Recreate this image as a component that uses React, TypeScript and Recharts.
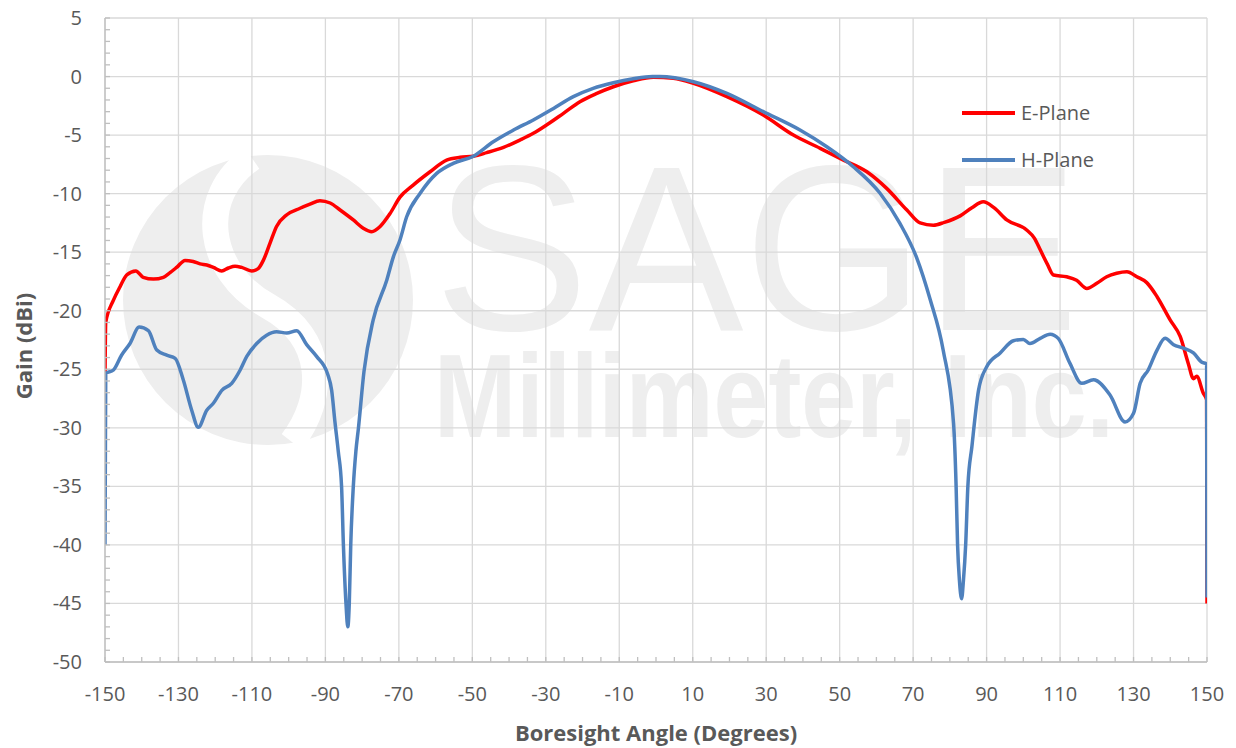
import React from 'react'
import { CartesianGrid, Label, Legend, Line, LineChart, XAxis, YAxis } from 'recharts'

const ePlaneAngle = [
  -150, -149.8, -147.7, -145.9, -144.1, -141.6, -139.6, -136.8, -134.1, -132.3, -130.5, -128.2, -126, -124.1,
  -122.3, -120.5, -118.2, -116.4, -114.6, -112.8, -110.1, -108.3, -106.9, -105.1, -103.3, -100.5, -96.9, -94.2,
  -91.5, -88.7, -86, -82.4, -79.7, -77.4, -75.1, -72.4, -69.7, -66.1, -61.5, -57, -53.3, -49.7, -46.1, -41.5, -37,
  -33.4, -29.8, -25.2, -20.7, -16.1, -11.6, -6.2, -0.7, 4.7, 10.2, 19.3, 29.2, 37.4, 44.7, 50.1, 57.4, 62.8, 68.3,
  71.9, 75.5, 78.5, 82.8, 86, 89.1, 92, 95.5, 100.9, 103, 104.6, 106.5, 108.2, 111.8, 114.5, 117.3, 120, 122.7,
  125.4, 128.2, 130.9, 133.6, 136.4, 140, 142.7, 144.9, 146.3, 147.2, 149, 149.9, 150,
]
const ePlaneGain = [
  -25.5, -21, -19.1, -17.95, -16.95, -16.6, -17.15, -17.3, -17.15, -16.75, -16.3, -15.7, -15.8, -16, -16.1, -16.3,
  -16.6, -16.35, -16.2, -16.3, -16.6, -16.4, -15.7, -14.25, -12.8, -11.8, -11.25, -10.9, -10.6, -10.8, -11.4,
  -12.25, -12.95, -13.25, -12.8, -11.7, -10.3, -9.27, -8.13, -7.13, -6.9, -6.8, -6.5, -6.05, -5.42, -4.85, -4.14,
  -3.14, -2.15, -1.44, -0.87, -0.36, -0.05, -0.15, -0.58, -1.72, -3.29, -5, -6.13, -7, -8.13, -9.55, -11.4, -12.5,
  -12.7, -12.45, -11.9, -11.2, -10.7, -11.2, -12.25, -13.1, -13.8, -14.8, -16, -16.95, -17.1, -17.4, -18.1, -17.66,
  -17.1, -16.8, -16.67, -17.1, -17.6, -18.8, -20.8, -22.2, -24.5, -25.8, -25.6, -27.05, -27.6, -45,
]
const hPlaneAngle = [
  -150, -149.8, -147.7, -145.5, -143.2, -140.7, -138.2, -135.9, -133.2, -130.9, -128.7, -126.4, -124.6, -122.3,
  -120.5, -118.2, -115.5, -113.2, -111.4, -108.7, -106, -103.3, -100.5, -97.8, -95.1, -92.4, -89.4, -88.3, -87.4,
  -86.5, -85.6, -85.1, -84.4, -83.9, -83.5, -83.1, -82.4, -81.7, -81, -79.5, -77, -73.3, -71.5, -69.7, -67.9,
  -64.2, -59.7, -55.2, -49.7, -44.3, -38.8, -33.4, -27.9, -22.5, -17.1, -11.6, -6.2, -1, 1, 10.2, 19.3, 29.2, 39.2,
  46.5, 53.7, 61, 66.4, 71, 74.6, 78.2, 81, 81.7, 82.1, 82.6, 83.2, 83.7, 84.3, 84.9, 86, 87.8, 90, 93.7, 97.3,
  100, 101.8, 104.6, 107.3, 109.5, 112.7, 115.9, 119.1, 123.6, 127.7, 130, 131.8, 134, 136.4, 138.6, 140.9, 143.6,
  146.3, 148.6, 149.9, 150,
]
const hPlaneGain = [
  -40, -25.35, -25.06, -23.8, -22.8, -21.4, -21.7, -23.36, -23.8, -24.07, -25.9, -28.5, -29.96, -28.5, -27.9,
  -26.8, -26.2, -25.06, -23.9, -22.8, -22.1, -21.8, -21.9, -21.7, -22.9, -23.9, -25.4, -26.8, -29.5, -32, -35, -40,
  -45, -47, -45, -40, -35, -32, -30, -25.2, -20.8, -17.4, -15.4, -13.96, -12, -9.97, -8.27, -7.41, -6.8, -5.57,
  -4.57, -3.71, -2.72, -1.72, -1.01, -0.53, -0.19, 0, 0, -0.44, -1.44, -3, -4.57, -6, -7.7, -9.97, -12.54, -15.5,
  -19, -23.4, -29.6, -35, -40, -43, -44.6, -43, -40, -35, -31.6, -26.8, -24.8, -23.6, -22.56, -22.45, -22.8,
  -22.36, -22, -22.36, -24.5, -26.2, -25.9, -27.2, -29.5, -28.76, -26.2, -25.06, -23.36, -22.36, -22.9, -23.2,
  -23.6, -24.4, -24.55, -44.5,
]

const xTickLabels = [-150, -130, -110, -90, -70, -50, -30, -10, 10, 30, 50, 70, 90, 110, 130, 150]
const yTickLabels = [5, 0, -5, -10, -15, -20, -25, -30, -35, -40, -45, -50]

const ePlane = ePlaneAngle.map((angle, i) => ({ angle, gain: ePlaneGain[i] }))
const hPlane = hPlaneAngle.map((angle, i) => ({ angle, gain: hPlaneGain[i] }))

// minor tick marks: every 5 degrees, every 1 dB
const xMinorTicks = Array.from({ length: 61 }, (_, i) => -150 + i * 5)
const yMinorTicks = Array.from({ length: 56 }, (_, i) => -50 + i)

const FONT = "'Open Sans', 'Noto Sans', sans-serif"
const TEXT = '#595959'
const AXIS = '#bfbfbf'
const GRID = '#d9d9d9'
const WATERMARK = '#eeeeee'

const XTick = ({ x, y, payload }: any) => (
  <g>
    <line x1={x} y1={y} x2={x} y2={y - 5} stroke={AXIS} strokeWidth={1.3} />
    {xTickLabels.includes(payload.value) && (
      <text x={x} y={y + 32} dy="0.35em" textAnchor="middle" fill={TEXT} fontSize={20} fontFamily={FONT}>
        {payload.value}
      </text>
    )}
  </g>
)

const YTick = ({ x, y, payload }: any) => (
  <g>
    <line x1={x} y1={y} x2={x + 5} y2={y} stroke={AXIS} strokeWidth={1.3} />
    {yTickLabels.includes(payload.value) && (
      <text x={x - 23} y={y} dy="0.35em" textAnchor="end" fill={TEXT} fontSize={20} fontFamily={FONT}>
        {payload.value}
      </text>
    )}
  </g>
)

const LegendContent = ({ payload }: any) => (
  <div style={{ fontFamily: FONT, fontSize: 20, color: TEXT }}>
    {(payload || []).map((item: any) => (
      <div key={item.value} style={{ display: 'flex', alignItems: 'center', height: 47 }}>
        <span style={{ display: 'inline-block', width: 53, height: 4, background: item.color, marginRight: 6 }} />
        {item.value}
      </div>
    ))}
  </div>
)

const Watermark = () => (
  <svg width={1236} height={748} style={{ position: 'absolute', left: 0, top: 0 }}>
    <circle cx={268} cy={300} r={145} fill={WATERMARK} />
    <path
      d="M 252 158 C 196 196, 206 272, 268 306 C 326 338, 326 398, 292 442"
      fill="none"
      stroke="#ffffff"
      strokeWidth={26}
    />
    <text
      x={434}
      y={330}
      fontFamily="'Liberation Sans', sans-serif"
      fontSize={236}
      textLength={645}
      lengthAdjust="spacingAndGlyphs"
      fill={WATERMARK}
    >
      SAGE
    </text>
    <text
      x={434}
      y={437}
      fontFamily="'Liberation Sans', sans-serif"
      fontWeight="bold"
      fontSize={119}
      textLength={680}
      lengthAdjust="spacingAndGlyphs"
      fill={WATERMARK}
    >
      Millimeter, Inc.
    </text>
  </svg>
)

export default function App() {
  return (
    <div style={{ position: 'absolute', left: 0, top: 0, width: 1236, height: 748, background: '#fff' }}>
      <Watermark />
      <div style={{ position: 'absolute', left: 0, top: 0 }}>
        <LineChart width={1236} height={748} margin={{ top: 18, right: 29, bottom: 26, left: 45 }}>
          <CartesianGrid
            stroke={GRID}
            strokeWidth={1.3}
            verticalValues={xTickLabels}
            horizontalValues={yTickLabels}
          />
          <XAxis
            type="number"
            dataKey="angle"
            domain={[-150, 150]}
            ticks={xMinorTicks}
            interval={0}
            allowDataOverflow
            height={60}
            tickSize={0}
            tickMargin={0}
            tickLine={false}
            tick={<XTick />}
            axisLine={{ stroke: AXIS, strokeWidth: 1.3 }}
            label={
              <Label
                content={() => (
                  <text x={656} y={733} dy="0.35em" textAnchor="middle" fill={TEXT} fontSize={22} fontWeight="bold" fontFamily={FONT}>
                    Boresight Angle (Degrees)
                  </text>
                )}
              />
            }
          />
          <YAxis
            type="number"
            domain={[-50, 5]}
            ticks={yMinorTicks}
            interval={0}
            allowDataOverflow
            width={60}
            tickSize={0}
            tickMargin={0}
            tickLine={false}
            tick={<YTick />}
            axisLine={{ stroke: AXIS, strokeWidth: 1.3 }}
            label={
              <Label
                content={() => (
                  <text
                    x={24}
                    y={346}
                    dy="0.35em"
                    textAnchor="middle"
                    transform="rotate(-90 24 346)"
                    fill={TEXT}
                    fontSize={22}
                    fontWeight="bold"
                    fontFamily={FONT}
                  >
                    Gain (dBi)
                  </text>
                )}
              />
            }
          />
          <Legend
            layout="vertical"
            align="center"
            verticalAlign="middle"
            content={<LegendContent />}
            wrapperStyle={{ left: 962, top: 89, width: 'auto' }}
          />
          <Line
            name="E-Plane"
            data={ePlane}
            dataKey="gain"
            type="monotone"
            stroke="#ff0000"
            strokeWidth={3.5}
            dot={false}
            activeDot={false}
            isAnimationActive={false}
          />
          <Line
            name="H-Plane"
            data={hPlane}
            dataKey="gain"
            type="monotone"
            stroke="#4f81bd"
            strokeWidth={3.5}
            dot={false}
            activeDot={false}
            isAnimationActive={false}
          />
        </LineChart>
      </div>
    </div>
  )
}
